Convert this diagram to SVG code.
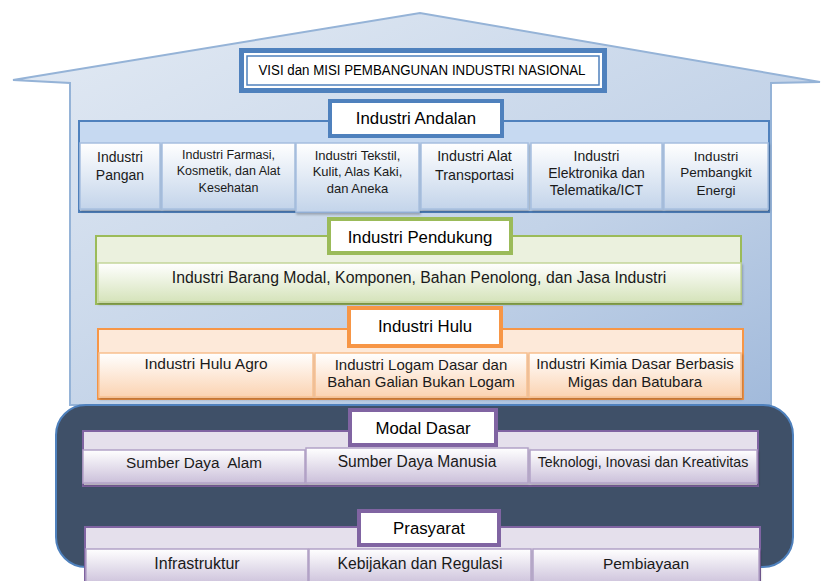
<svg xmlns="http://www.w3.org/2000/svg" width="821" height="581" viewBox="0 0 821 581">
<defs>
<linearGradient id="gRoof" x1="0" y1="0" x2="1" y2="1">
<stop offset="0" stop-color="#e4ebf4"/><stop offset="0.6" stop-color="#c3d3e8"/><stop offset="1" stop-color="#9fb8da"/>
</linearGradient>
<linearGradient id="gBlue" x1="0" y1="0" x2="0" y2="1"><stop offset="0" stop-color="#ffffff"/><stop offset="1" stop-color="#c3d4ea"/></linearGradient>
<linearGradient id="gGreen" x1="0" y1="0" x2="0" y2="1"><stop offset="0" stop-color="#ffffff"/><stop offset="1" stop-color="#d5e3ba"/></linearGradient>
<linearGradient id="gOrange" x1="0" y1="0" x2="0" y2="1"><stop offset="0" stop-color="#ffffff"/><stop offset="1" stop-color="#fbd3b2"/></linearGradient>
<linearGradient id="gPurple" x1="0" y1="0" x2="0" y2="1"><stop offset="0" stop-color="#ffffff"/><stop offset="1" stop-color="#cbc0da"/></linearGradient>
<filter id="sh" x="-5%" y="-10%" width="115%" height="130%"><feDropShadow dx="1" dy="2" stdDeviation="1" flood-color="#000" flood-opacity="0.25"/></filter>
</defs>
<style>
text{font-family:"Liberation Sans",Arial,sans-serif;fill:#1a1a1a;text-anchor:middle}
.hd{font-size:16.8px;fill:#000}
.blueH{fill:#fff;stroke:#4f81bd;stroke-width:4}
.greenH{fill:#fff;stroke:#9bbb59;stroke-width:4}
.orangeH{fill:#fff;stroke:#f79646;stroke-width:4}
.purpleH{fill:#fff;stroke:#8064a2;stroke-width:4}
.bi{fill:url(#gBlue);stroke:#a7bfdf;stroke-width:1.5;filter:url(#sh)}
.gi{fill:url(#gGreen);stroke:#c3d69b;stroke-width:1.5;filter:url(#sh)}
.oi{fill:url(#gOrange);stroke:#f9c08f;stroke-width:1.5;filter:url(#sh)}
.pi{fill:url(#gPurple);stroke:#b3a2c7;stroke-width:1.5;filter:url(#sh)}
.pre{white-space:pre}
</style>

<g id="house">
<polygon points="13,80 420,13 820,82 771,83 771,405 70,405 70,83" fill="url(#gRoof)" stroke="#95b3d7" stroke-width="2"/>
</g>

<g id="visi">
<rect x="241.5" y="50.5" width="363" height="40" fill="#fff" stroke="#4f81bd" stroke-width="5"/>
<rect x="247" y="56" width="352" height="29" fill="none" stroke="#4f81bd" stroke-width="1.5"/>
<text x="422" y="75" font-size="14" textLength="327" lengthAdjust="spacingAndGlyphs" style="fill:#000">VISI dan MISI PEMBANGUNAN INDUSTRI NASIONAL</text>
</g>

<g id="andalan">
<rect x="79" y="121" width="690" height="91" fill="#c6d9f1" stroke="#4f81bd" stroke-width="2"/>
<rect class="blueH" x="330" y="101" width="172" height="35"/>
<text class="hd" x="416" y="124">Industri Andalan</text>
</g>
<g id="andalan-pangan">
<rect class="bi" x="80" y="143" width="80" height="66"/>
<text x="120" y="162" font-size="14">Industri</text>
<text x="120" y="180" font-size="14">Pangan</text>
</g>
<g id="andalan-farmasi">
<rect class="bi" x="162" y="143" width="133" height="66"/>
<text x="228.5" y="159" font-size="12.5">Industri Farmasi,</text>
<text x="228.5" y="175" font-size="12.5">Kosmetik, dan Alat</text>
<text x="228.5" y="192" font-size="12.5">Kesehatan</text>
</g>
<g id="andalan-tekstil">
<rect class="bi" x="296" y="143" width="123" height="69"/>
<text x="357.5" y="160" font-size="13">Industri Tekstil,</text>
<text x="357.5" y="176" font-size="13">Kulit, Alas Kaki,</text>
<text x="357.5" y="193" font-size="13">dan Aneka</text>
</g>
<g id="andalan-transportasi">
<rect class="bi" x="421" y="143" width="107" height="66"/>
<text x="474.5" y="161" font-size="14.3">Industri Alat</text>
<text x="474.5" y="180" font-size="14.3">Transportasi</text>
</g>
<g id="andalan-elektronika">
<rect class="bi" x="531" y="143" width="131" height="66"/>
<text x="596.5" y="161" font-size="14">Industri</text>
<text x="596.5" y="178" font-size="14">Elektronika dan</text>
<text x="596.5" y="195" font-size="14">Telematika/ICT</text>
</g>
<g id="andalan-energi">
<rect class="bi" x="664" y="143" width="104" height="66"/>
<text x="716" y="161" font-size="13.5">Industri</text>
<text x="716" y="177" font-size="13.5">Pembangkit</text>
<text x="716" y="195" font-size="13.5">Energi</text>
</g>

<g id="pendukung">
<rect x="96" y="236" width="645" height="68" fill="#ebf1de" stroke="#9bbb59" stroke-width="2"/>
<rect class="greenH" x="329" y="219" width="182" height="34"/>
<text class="hd" x="420" y="243">Industri Pendukung</text>
</g>
<g id="pendukung-barang">
<rect class="gi" x="98" y="263" width="643" height="39"/>
<text x="419" y="283" font-size="15.8">Industri Barang Modal, Komponen, Bahan Penolong, dan Jasa Industri</text>
</g>

<g id="hulu">
<rect x="98" y="329" width="645" height="70" fill="#fde9d9" stroke="#f79646" stroke-width="2"/>
<rect class="orangeH" x="349" y="308" width="152" height="38"/>
<text class="hd" x="425" y="332">Industri Hulu</text>
</g>
<g id="hulu-agro">
<rect class="oi" x="99" y="353" width="214" height="44"/>
<text x="206" y="369" font-size="15.5">Industri Hulu Agro</text>
</g>
<g id="hulu-logam">
<rect class="oi" x="315" y="353" width="212" height="44"/>
<text x="421" y="370" font-size="15">Industri Logam Dasar dan</text>
<text x="421" y="387" font-size="15">Bahan Galian Bukan Logam</text>
</g>
<g id="hulu-kimia">
<rect class="oi" x="529" y="353" width="212" height="44"/>
<text x="635" y="369" font-size="15">Industri Kimia Dasar Berbasis</text>
<text x="635" y="387" font-size="15">Migas dan Batubara</text>
</g>

<g id="base">
<rect x="56" y="405" width="737" height="162" rx="30" ry="30" fill="#3f5068" stroke="#4f81bd" stroke-width="2"/>
</g>

<g id="modal">
<rect x="83" y="431" width="675" height="55" fill="#e5e0ec" stroke="#8064a2" stroke-width="2"/>
<rect class="purpleH" x="350" y="410" width="146" height="35"/>
<text class="hd" x="423" y="434">Modal Dasar</text>
</g>
<g id="modal-alam">
<rect class="pi" x="83" y="450" width="222" height="33"/>
<text class="pre" x="194" y="468" font-size="15.3">Sumber Daya  Alam</text>
</g>
<g id="modal-manusia">
<rect class="pi" x="306" y="448" width="222" height="35"/>
<text x="417" y="467" font-size="15.6">Sumber Daya Manusia</text>
</g>
<g id="modal-teknologi">
<rect class="pi" x="530" y="450" width="227" height="33"/>
<text x="643" y="467" font-size="14.2">Teknologi, Inovasi dan Kreativitas</text>
</g>

<g id="prasyarat">
<rect x="85" y="527" width="675" height="60" fill="#e5e0ec" stroke="#8064a2" stroke-width="2"/>
<rect class="purpleH" x="359" y="511" width="140" height="34"/>
<text class="hd" x="429" y="534">Prasyarat</text>
</g>
<g id="prasyarat-infra">
<rect class="pi" x="86" y="549" width="222" height="36"/>
<text x="197" y="569" font-size="16">Infrastruktur</text>
</g>
<g id="prasyarat-kebijakan">
<rect class="pi" x="309" y="549" width="222" height="36"/>
<text x="420" y="569" font-size="15.7">Kebijakan dan Regulasi</text>
</g>
<g id="prasyarat-pembiayaan">
<rect class="pi" x="533" y="549" width="226" height="36"/>
<text x="646" y="569" font-size="15.5">Pembiayaan</text>
</g>

<g id="connectors"/>
</svg>
